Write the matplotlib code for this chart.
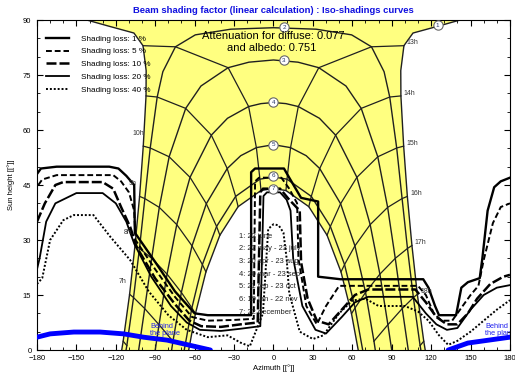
import numpy as np
import matplotlib
matplotlib.use("Agg")
import matplotlib.pyplot as plt
from matplotlib.lines import Line2D

plt.rcParams['font.family'] = ['Liberation Sans', 'DejaVu Sans']

# sun paths, afternoon half (solar noon -> sunset), morning side is the mirror image
date_labels = ["1: 22 june", "2: 22 may - 23 july", "3: 20 apr - 23 aug", "4: 20 mar - 23 sep",
               "5: 21 feb - 23 oct", "6: 19 jan - 22 nov", "7: 22 december"]
path_az = [
    [180, 142, 126.1, 106.2, 99.3, 96.9, 97.0, 99.1, 101.9, 105.4, 109.5, 114.4, 115.5],
    [0, 32.5, 59.5, 74.6, 84.2, 88.5, 93.8, 97.9, 102.0, 106.5, 111.6, 112.2],
    [0, 18.7, 34.5, 55.2, 66.8, 79.4, 86.9, 92.7, 98.0, 102.6],
    [0, 9.5, 18.9, 35.0, 47.3, 63.5, 73.6, 81.0, 87.1, 90.0],
    [0, 13.0, 24.9, 35.2, 51.1, 62.0, 70.1, 76.5, 77.5],
    [0, 10.3, 28.8, 43.3, 54.1, 62.1, 67.9],
    [0, 9.5, 26.9, 40.8, 51.4, 59.4, 64.5],
]
path_h = [
    [91, 90, 88.4, 86.45, 83.0, 76.2, 69.3, 55.6, 41.9, 28.5, 15.2, 2.4, 0],
    [87.9, 87.5, 85.95, 82.7, 75.9, 69.0, 55.1, 41.3, 27.7, 14.3, 1.2, 0],
    [79.1, 78.5, 77.0, 72.0, 65.9, 52.7, 38.9, 25.0, 11.3, 0],
    [67.5, 67.2, 66.4, 63.2, 58.6, 47.1, 34.2, 20.7, 6.9, 0],
    [56.0, 55.2, 53.0, 49.5, 39.9, 28.4, 15.7, 2.4, 0],
    [47.2, 46.6, 41.9, 33.7, 23.3, 11.5, 0],
    [44.05, 43.5, 39.1, 31.3, 21.3, 9.9, 0],
]

# sun position at the afternoon hours (legal time), one row per date
hours_pm = [13, 14, 15, 16, 17, 18, 19]
nan = np.nan
hour_az = [
    [99.3, 97.0, 99.1, 101.9, 105.4, 109.5, 114.4],
    [74.6, 88.5, 93.8, 97.9, 102.0, 106.5, 111.6],
    [34.5, 66.8, 79.4, 86.9, 92.7, 98.0, nan],
    [18.9, 47.3, 63.5, 73.6, 81.0, 87.1, nan],
    [13.0, 35.2, 51.1, 62.0, 70.1, 76.5, nan],
    [10.3, 28.8, 43.3, 54.1, 62.1, nan, nan],
    [9.5, 26.9, 40.8, 51.4, 59.4, nan, nan],
]
hour_h = [
    [83.0, 69.3, 55.6, 41.9, 28.5, 15.2, 2.4],
    [82.7, 69.0, 55.1, 41.3, 27.7, 14.3, 1.2],
    [77.0, 65.9, 52.7, 38.9, 25.0, 11.3, nan],
    [66.4, 58.6, 47.1, 34.2, 20.7, 6.9, nan],
    [55.2, 49.5, 39.9, 28.4, 15.7, 2.4, nan],
    [46.6, 41.9, 33.7, 23.3, 11.5, nan, nan],
    [43.5, 39.1, 31.3, 21.3, 9.9, nan, nan],
]
label_hours = [7, 8, 9, 10, 13, 14, 15, 16, 17, 18]

# number circles on the date curves
circle_az = [125, 8, 8, 0, 0, 0, 0]
circle_h = [88.6, 88.0, 79.0, 67.6, 56.0, 47.5, 44.0]

# iso-shading curves
loss_levels = [1, 5, 10, 20, 40]
loss_az = [
    [-180, -177, -165, -125, -118, -112, -106, -105.5, -90, -75, -60, -50, -17, -17, -14, 8, 12, 21, 34, 34,
     51, 114, 118, 123, 126, 139, 143, 148, 157, 159, 163, 168, 173, 180],
    [-179, -176, -165, -122, -116, -110, -106, -105, -90, -75, -62, -50, -30, -15, -14, -11, 6, 12, 18, 19,
     25, 33, 40, 50, 110, 116, 122, 128, 136, 142, 150, 156, 160, 167, 173, 180],
    [-180, -174, -166, -160, -130, -122, -116, -109, -104, -90, -75, -64, -55, -40, -25, -12, -10, -8, 5, 12,
     20, 21, 26, 33, 42, 52, 62, 72, 108, 116, 124, 132, 140, 148, 155, 165, 175, 180],
    [-180, -178, -173, -166, -150, -130, -120, -112, -106, -93, -78, -66, -56, -40, -25, -10, -7.6, -5, 5, 10,
     13, 15, 22, 32, 40, 52, 62, 72, 106, 116, 124, 132, 140, 150, 160, 170, 180],
    [-180, -176, -170, -160, -152, -137, -124, -109, -95, -80, -66, -50, -35, -25, -18, -8, -4, 0, 4, 7.6,
     10, 12, 20, 30, 38, 50, 60, 70, 80, 100, 110, 118, 126, 133, 140, 150, 160, 170, 180],
]
loss_h = [
    [48, 49.5, 50, 50, 49.5, 47.5, 45, 32, 24, 16, 10, 9.5, 9.5, 48.5, 49.5, 49.5, 47, 41.5, 40.5, 20,
     19.3, 19.3, 17, 12, 9.5, 9.5, 17, 18.5, 19.6, 25, 38, 44.4, 46, 47],
    [45, 46.5, 47.7, 47.7, 46, 43, 38, 30, 22, 14.5, 9, 8, 8.2, 8.5, 46, 47, 47, 44, 40, 25,
     12, 7, 12, 17.5, 17.5, 15, 10, 8, 8, 11, 15, 17.5, 24.5, 34.6, 39, 40],
    [35, 40, 45, 45.8, 45.8, 44, 39, 33.5, 28, 19.5, 12.5, 8, 6.5, 6.3, 7, 7.5, 43, 44, 44, 41,
     38, 24, 14, 8, 7, 11, 15, 16.5, 16.5, 13, 9, 7, 7, 10, 14, 18, 20, 20.5],
    [22, 25, 35, 40, 42.8, 42.8, 40, 35, 29, 20, 12, 7.5, 5.5, 5.2, 5.8, 6.5, 42, 43, 43, 41,
     38, 25, 12, 5.5, 4.5, 9, 13, 14.5, 14.5, 10, 7, 5.5, 6, 11, 15, 17, 17.7],
    [18, 19.6, 30, 35.4, 36.8, 36.8, 30.8, 24.5, 16, 9.5, 5.5, 3.5, 4, 2, 1, 10, 33, 34.3, 34, 32,
     25, 15.5, 5, 3, 4, 10, 13.5, 14, 12, 12, 10.5, 8, 4, 1.4, 2.5, 5, 8, 11, 13.6],
]
loss_styles = [
    dict(ls='-', lw=1.7),
    dict(ls=(0, (3, 1.5)), lw=1.4),
    dict(ls=(0, (4, 1.2)), lw=1.8),
    dict(ls='-', lw=1.3),
    dict(ls=(0, (1, 1)), lw=1.4),
]

# "behind the plane" limits
behind_left_az = [-180, -170, -152, -132, -114, -99, -81, -65, -48]
behind_left_h = [3.5, 4.4, 4.9, 4.9, 4.4, 3.5, 2.7, 1.4, 0]
behind_right_az = [133, 148, 164, 180]
behind_right_h = [0, 1.9, 2.7, 3.5]

fig = plt.figure(figsize=(5.15, 3.77), dpi=100)
ax = fig.add_axes([0.0718, 0.0716, 0.9184, 0.8753])

# full paths
def full_path(i):
    a = np.array(path_az[i], float)
    h = np.array(path_h[i], float)
    return np.concatenate([-a[::-1], a[1:]]), np.concatenate([h[::-1], h[1:]])

a1 = np.array(path_az[0], float)
h1 = np.array(path_h[0], float)
a7, h7 = full_path(6)

# yellow sun-path area
poly_az = list(-a1[::-1]) + [-180, 180] + list(a1) + list(a7[::-1])
poly_h = list(h1[::-1]) + [91, 91] + list(h1) + list(h7[::-1])
ax.fill(poly_az, poly_h, color='#FFFF80', zorder=1, lw=0)

# date curves
ax.plot(-a1, h1, color='#202020', lw=1.0, zorder=2)
ax.plot(a1, h1, color='#202020', lw=1.0, zorder=2)
for i in range(1, 7):
    a, h = full_path(i)
    ax.plot(a, h, color='#202020', lw=1.0, zorder=2)

# hour lines
haz = np.array(hour_az)
hh = np.array(hour_h)
for j in range(len(hours_pm)):
    ax.plot(haz[:, j], hh[:, j], color='#202020', lw=0.9, zorder=2)
    ax.plot(-haz[:, j], hh[:, j], color='#202020', lw=0.9, zorder=2)

for t in label_hours:
    if t >= 13:
        j = hours_pm.index(t)
        ax.annotate(f"{t}h", (haz[0, j], hh[0, j]), xytext=(2, 1), textcoords='offset points',
                    fontsize=5, color='#333333', zorder=6)
    else:
        j = hours_pm.index(25 - t)
        ax.annotate(f"{t}h", (-haz[0, j], hh[0, j]), xytext=(-8, 8), textcoords='offset points',
                    fontsize=5, color='#333333', zorder=6)

# iso-shading curves
handles = []
for k in range(len(loss_levels)):
    ax.plot(loss_az[k], loss_h[k], color='black', zorder=3, **loss_styles[k])
    handles.append(Line2D([], [], color='black', **loss_styles[k]))
leg = ax.legend(handles, [f"Shading loss: {v} %" for v in loss_levels], loc='upper left',
                frameon=False, fontsize=5.9, handlelength=2.8, handletextpad=1.5,
                labelspacing=0.62, borderaxespad=0.4, bbox_to_anchor=(0.005, 0.975))
leg.set_zorder(7)

# behind the plane
ax.plot(behind_left_az, behind_left_h, color='#0000FF', lw=3.5, zorder=4, solid_capstyle='round')
ax.plot(behind_right_az, behind_right_h, color='#0000FF', lw=3.5, zorder=4, solid_capstyle='round')
ax.text(-94, 4.2, "Behind\nthe plane", fontsize=5.3, color='#2222EE', zorder=6, linespacing=0.9)
ax.text(161, 4.2, "Behind\nthe plane", fontsize=5.3, color='#2222EE', zorder=6, linespacing=0.9,
        clip_on=True)

# date number circles
ax.scatter(circle_az, circle_h, s=45, facecolor='white', edgecolor='#666666', lw=0.8, zorder=5)
for n, (ca, ch) in enumerate(zip(circle_az, circle_h)):
    ax.text(ca, ch, str(n + 1), fontsize=4.5, ha='center', va='center', color='#223366', zorder=6)

# date legend
for n, txt in enumerate(date_labels):
    ax.text(-26, 31 - n * 3.45, txt, fontsize=5.4, color='#222222', zorder=6, va='center')

ax.text(0, 85.6, "Attenuation for diffuse: 0.077", fontsize=8, ha='center', va='center', zorder=6)
ax.text(-1, 82.4, "and albedo: 0.751", fontsize=8, ha='center', va='center', zorder=6)

ax.set_xlim(-180, 180)
ax.set_ylim(0, 90)
ax.set_xticks(np.arange(-180, 181, 30))
ax.set_xticks(np.arange(-180, 181, 10), minor=True)
ax.set_yticks(np.arange(0, 91, 15))
ax.set_yticks(np.arange(0, 91, 5), minor=True)
ax.tick_params(which='both', direction='in', top=True, right=True, labelsize=5.5)
ax.tick_params(axis='x', pad=3.5)
ax.tick_params(axis='y', pad=4)
ax.tick_params(which='major', length=4)
ax.tick_params(which='minor', length=2.5)
for s in ax.spines.values():
    s.set_linewidth(0.8)

ax.set_xlabel("Azimuth [[°]]", fontsize=5.5, labelpad=2)
ax.set_ylabel("Sun height [[°]]", fontsize=5.5, labelpad=6)
fig.text(0.53, 0.973, "Beam shading factor (linear calculation) : Iso-shadings curves",
         fontsize=6.8, fontweight='bold', color='#1010E0', ha='center', va='center')

fig.savefig("out.png", dpi=100)
